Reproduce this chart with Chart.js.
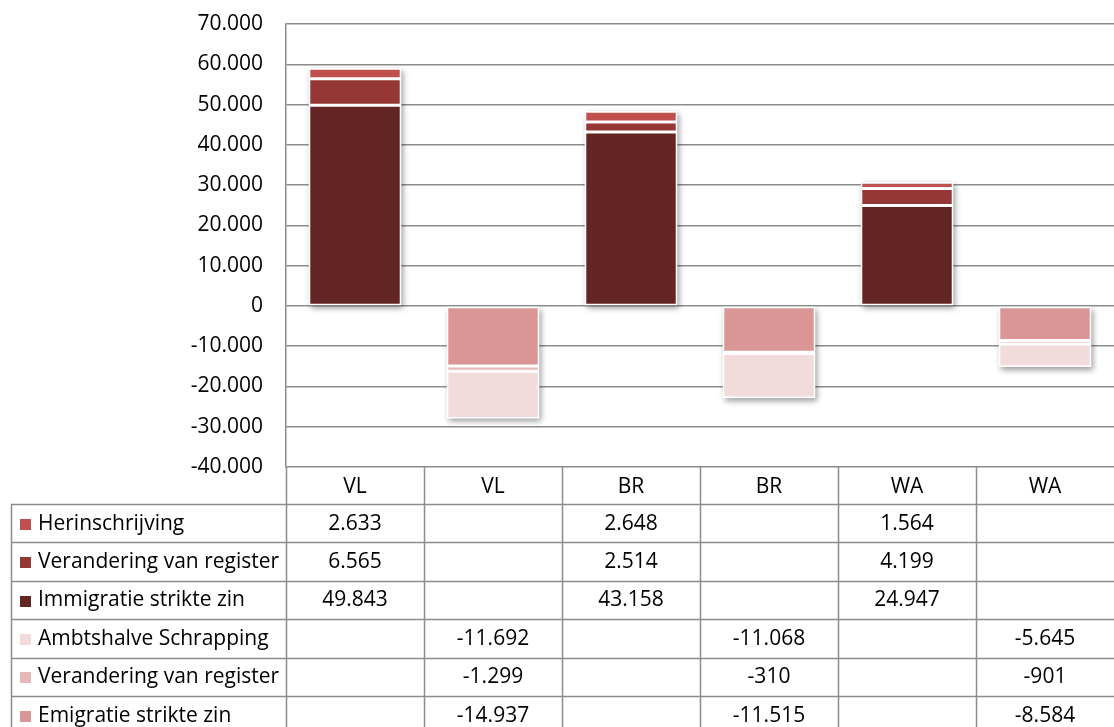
<!DOCTYPE html>
<html>
<head>
<meta charset="utf-8">
<script src="https://cdn.jsdelivr.net/npm/chart.js@4"></script>
<style>
  body { margin: 0; background: #fff; }
  canvas { display: block; }
</style>
</head>
<body>
<canvas id="chart" width="1114" height="727"></canvas>
<script>
// data
const categories = ['VL', 'VL', 'BR', 'BR', 'WA', 'WA'];
const yTicks = [-40000, -30000, -20000, -10000, 0, 10000, 20000, 30000, 40000, 50000, 60000, 70000];

const herinschrijving = [2633, null, 2648, null, 1564, null];
const veranderingIn = [6565, null, 2514, null, 4199, null];
const immigratie = [49843, null, 43158, null, 24947, null];
const ambtshalve = [null, -11692, null, -11068, null, -5645];
const veranderingUit = [null, -1299, null, -310, null, -901];
const emigratie = [null, -14937, null, -11515, null, -8584];

const FONT = '"Open Sans", Lato, sans-serif';
const FONT_SIZE = 21;
const LINE = '#8c8c8c';

function fmt(v) {
    if (v === null || v === undefined) return '';
    const s = String(Math.abs(v)).replace(/\B(?=(\d{3})+(?!\d))/g, '.');
    return (v < 0 ? '-' : '') + s;
}

// stacking order (from zero outwards)
const datasets = [
    { label: 'Immigratie strikte zin', data: immigratie, backgroundColor: '#632523' },
    { label: 'Verandering van register', data: veranderingIn, backgroundColor: '#953735' },
    { label: 'Herinschrijving', data: herinschrijving, backgroundColor: '#C0504D' },
    { label: 'Emigratie strikte zin', data: emigratie, backgroundColor: '#D99694' },
    { label: 'Verandering van register', data: veranderingUit, backgroundColor: '#E6B9B8' },
    { label: 'Ambtshalve Schrapping', data: ambtshalve, backgroundColor: '#F2DCDB' }
];
// rows of the data table, top to bottom
const tableRows = [2, 1, 0, 5, 4, 3];

// soft drop shadow behind each whole column of bars
const shadowPlugin = {
    id: 'barShadow',
    beforeDatasetsDraw(chart) {
        const ctx = chart.ctx;
        categories.forEach((c, i) => {
            let top = Infinity, bottom = -Infinity, left = 0, right = 0;
            chart.data.datasets.forEach((ds, d) => {
                if (ds.data[i] === null) return;
                const el = chart.getDatasetMeta(d).data[i];
                top = Math.min(top, el.y, el.base);
                bottom = Math.max(bottom, el.y, el.base);
                left = el.x - el.width / 2;
                right = el.x + el.width / 2;
            });
            if (top === Infinity) return;
            ctx.save();
            ctx.shadowColor = 'rgba(0,0,0,0.4)';
            ctx.shadowBlur = 6;
            ctx.shadowOffsetX = 2;
            ctx.shadowOffsetY = 3;
            ctx.fillStyle = '#fff';
            ctx.fillRect(left, top, right - left, bottom - top);
            ctx.restore();
        });
    }
};

// data table under the plot
const tablePlugin = {
    id: 'dataTable',
    afterDraw(chart) {
        const ctx = chart.ctx;
        const area = chart.chartArea;
        const xs = chart.scales.x;
        const colW = (area.right - area.left) / categories.length;
        const headTop = area.bottom;
        const headBottom = 504;
        const rowH = 38.4;
        const tableLeft = 11;

        ctx.save();
        ctx.strokeStyle = LINE;
        ctx.lineWidth = 1.5;
        ctx.beginPath();
        // column lines
        for (let i = 0; i <= categories.length - 1; i++) {
            const x = Math.round(area.left + i * colW) + 0.5;
            ctx.moveTo(x, headTop);
            ctx.lineTo(x, chart.height);
        }
        // row lines
        for (let r = 0; r < tableRows.length; r++) {
            const y = Math.round(headBottom + r * rowH) + 0.5;
            ctx.moveTo(tableLeft, y);
            ctx.lineTo(chart.width, y);
        }
        ctx.moveTo(tableLeft + 0.5, headBottom);
        ctx.lineTo(tableLeft + 0.5, chart.height);
        ctx.stroke();

        ctx.fillStyle = '#000';
        ctx.font = FONT_SIZE + 'px ' + FONT;
        ctx.textBaseline = 'middle';
        ctx.textAlign = 'center';
        categories.forEach((c, i) => {
            ctx.fillText(c, xs.getPixelForValue(i), (headTop + headBottom) / 2 + 2);
        });

        tableRows.forEach((d, r) => {
            const ds = chart.data.datasets[d];
            const yMid = headBottom + r * rowH + rowH / 2 + 0.5;
            ctx.fillStyle = ds.backgroundColor;
            ctx.fillRect(20, Math.round(yMid - 5), 11, 11);
            ctx.fillStyle = '#000';
            ctx.textAlign = 'left';
            ctx.fillText(ds.label, 38, yMid);
            ctx.textAlign = 'center';
            ds.data.forEach((v, i) => {
                if (v === null) return;
                ctx.fillText(fmt(v), xs.getPixelForValue(i), yMid);
            });
        });
        ctx.restore();
    }
};

new Chart(document.getElementById('chart').getContext('2d'), {
    type: 'bar',
    data: {
        labels: categories,
        datasets: datasets.map(ds => Object.assign({
            borderColor: '#ffffff',
            borderWidth: 1.5,
            borderSkipped: false,
            categoryPercentage: 1,
            barPercentage: 0.67,
            stack: 'all'
        }, ds))
    },
    plugins: [shadowPlugin, tablePlugin],
    options: {
        responsive: false,
        animation: false,
        layout: {
            padding: { top: 24, bottom: 260, right: 0, left: 0 }
        },
        plugins: {
            legend: { display: false },
            tooltip: { enabled: false }
        },
        scales: {
            x: {
                display: false,
                stacked: true
            },
            y: {
                stacked: true,
                min: -40000,
                max: 70000,
                afterFit(scale) {
                    scale.width = 286;
                    scale.paddingTop = 0;
                    scale.paddingBottom = 0;
                },
                afterBuildTicks(scale) { scale.ticks = yTicks.map(v => ({ value: v })); },
                border: { display: true, color: LINE, width: 1.5 },
                grid: { color: LINE, lineWidth: 1.5, drawTicks: false },
                ticks: {
                    color: '#000',
                    padding: 23,
                    font: { family: FONT, size: FONT_SIZE },
                    callback: v => fmt(v)
                }
            }
        }
    }
});
</script>
</body>
</html>
